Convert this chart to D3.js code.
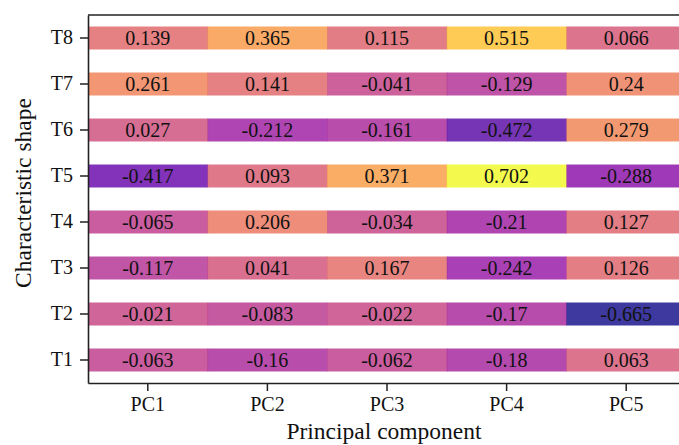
<!DOCTYPE html>
<html>
<head>
<meta charset="utf-8">
<script src="https://cdn.jsdelivr.net/npm/d3@7"></script>
<style>
  body { margin: 0; background: #fff; }
  text { font-family: "Liberation Serif", "Times New Roman", serif; fill: #111; }
</style>
</head>
<body>
<script>
// categories
const components = ["PC1", "PC2", "PC3", "PC4", "PC5"];
const shapes = ["T8", "T7", "T6", "T5", "T4", "T3", "T2", "T1"];

// one row of loadings per shape, PC1..PC5
const T8 = [0.139, 0.365, 0.115, 0.515, 0.066];
const T7 = [0.261, 0.141, -0.041, -0.129, 0.24];
const T6 = [0.027, -0.212, -0.161, -0.472, 0.279];
const T5 = [-0.417, 0.093, 0.371, 0.702, -0.288];
const T4 = [-0.065, 0.206, -0.034, -0.21, 0.127];
const T3 = [-0.117, 0.041, 0.167, -0.242, 0.126];
const T2 = [-0.021, -0.083, -0.022, -0.17, -0.665];
const T1 = [-0.063, -0.16, -0.062, -0.18, 0.063];
const rows = [T8, T7, T6, T5, T4, T3, T2, T1];

const cells = [];
rows.forEach((r, i) => r.forEach((v, j) => cells.push({ s: shapes[i], pc: components[j], v: v })));

const W = 679, H = 445;
const m = { top: 15, left: 88, right: -7, bottom: 62 };

const svg = d3.select("body").append("svg")
  .attr("width", W)
  .attr("height", H);

const x = d3.scaleBand().domain(components).range([m.left, W - m.right]);
const y = d3.scaleBand().domain(shapes).range([m.top, H - m.bottom])
  .paddingInner(0.5).paddingOuter(0.25);

const all = cells.map(d => d.v);
const color = d3.scaleSequential(d3.interpolatePlasma).domain(d3.extent(all));

//cellerne
svg.append("g").selectAll("rect")
  .data(cells)
  .join("rect")
  .attr("x", d => x(d.pc))
  .attr("y", d => y(d.s))
  .attr("width", x.bandwidth() + 0.5)
  .attr("height", y.bandwidth())
  .attr("fill", d => color(d.v))
  .attr("fill-opacity", 0.8);

svg.append("g").selectAll("text")
  .data(cells)
  .join("text")
  .attr("x", d => x(d.pc) + x.bandwidth() / 2)
  .attr("y", d => y(d.s) + y.bandwidth() / 2)
  .attr("dy", "0.35em")
  .attr("text-anchor", "middle")
  .attr("font-size", 20)
  .text(d => d.v);

// axes
const xAxis = svg.append("g")
  .attr("transform", `translate(0,${H - m.bottom})`)
  .call(d3.axisBottom(x).tickSize(8).tickSizeOuter(0).tickPadding(6));
const yAxis = svg.append("g")
  .attr("transform", `translate(${m.left},0)`)
  .call(d3.axisLeft(y).tickSize(8).tickSizeOuter(0).tickPadding(7));

[xAxis, yAxis].forEach(a => {
  a.attr("font-size", 20).attr("font-family", null);
  a.selectAll("text").attr("fill", "#111");
  a.selectAll("line").attr("stroke", "#222").attr("stroke-width", 1.5);
  a.select(".domain").attr("stroke", "#222").attr("stroke-width", 1.6);
});

// top spine
svg.append("line")
  .attr("x1", m.left).attr("x2", W)
  .attr("y1", m.top).attr("y2", m.top)
  .attr("stroke", "#222").attr("stroke-width", 1.6);

svg.append("text")
  .attr("x", 384)
  .attr("y", 439)
  .attr("text-anchor", "middle")
  .attr("font-size", 23.5)
  .text("Principal component");

svg.append("text")
  .attr("transform", `translate(31,193) rotate(-90)`)
  .attr("text-anchor", "middle")
  .attr("font-size", 23.5)
  .text("Characteristic shape");
</script>
</body>
</html>
